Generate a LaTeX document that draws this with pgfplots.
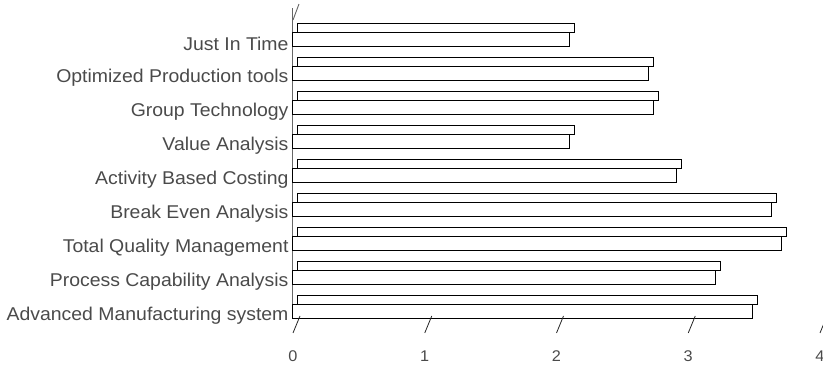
\documentclass[border=0pt]{standalone}
\usepackage{pgfplots}
\pgfplotsset{compat=1.18}
\usepackage{fontspec}
\setmainfont{Liberation Sans}[FakeStretch=1.05]
\definecolor{txt}{HTML}{4A4A4A}
\begin{document}
\begin{tikzpicture}
\begin{axis}[
  at={(293pt,48pt)}, anchor=south west,
  scale only axis, width=527pt, height=310pt,
  xmin=0, xmax=4, ymin=-0.32, ymax=8.8,
  axis y line*=left, axis x line*=bottom,
  x axis line style={draw=none},
  y axis line style={draw=gray!80!black, line width=1pt},
  xtick={0,1,2,3,4}, ytick={0,...,8},
  yticklabels={Advanced Manufacturing system, Process Capability Analysis, Total Quality Management, Break Even Analysis, Activity Based Costing, Value Analysis, Group Technology, Optimized Production tools, Just In Time},
  major tick length=0pt,
  tick style={draw=none},
  /pgf/number format/assume math mode=true,
  yticklabel style={font=\fontsize{18.5}{21}\selectfont, text=txt, yshift=-9pt, xshift=-1pt},
  xticklabel style={font=\fontsize{15.5}{17}\selectfont, text=txt, yshift=-29pt},
  xbar, clip=false,
]
% top faces
\addplot[draw=black, fill=white, line width=1pt, bar width=9pt, bar shift=7.5pt, xshift=5pt]
  coordinates {(3.49,0) (3.21,1) (3.71,2) (3.63,3) (2.91,4) (2.10,5) (2.74,6) (2.70,7) (2.10,8)};
% front faces
\addplot[draw=black, fill=white, line width=1pt, bar width=14.5pt, bar shift=-4.25pt]
  coordinates {(3.49,0) (3.21,1) (3.71,2) (3.63,3) (2.91,4) (2.10,5) (2.74,6) (2.70,7) (2.10,8)};
\pgfplotsinvokeforeach{0,1,2,3,4}{
  \draw[black!85, line width=0.8pt] (axis cs:#1,-0.32) ++(7pt,2pt) -- ++(-7pt,-17pt);
}
\draw[gray!80!black, line width=0.9pt] (axis cs:0,8.8) ++(0pt,-12pt) -- ++(6pt,16pt);
\end{axis}
\pgfresetboundingbox
\path (0,0) rectangle (823pt,366pt);
\end{tikzpicture}
\end{document}
